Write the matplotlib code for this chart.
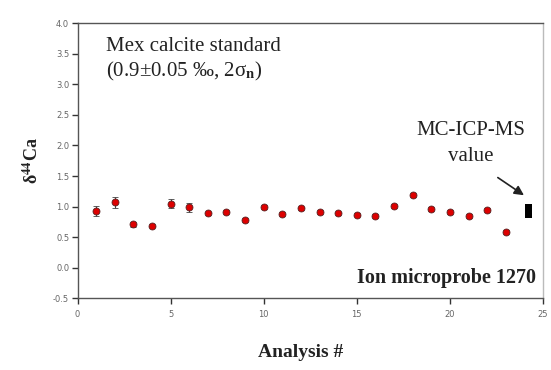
import matplotlib
matplotlib.use("Agg")
import matplotlib.pyplot as plt
import numpy as np

# datos
analise = np.arange(1, 24)
d44ca = [0.93, 1.07, 0.71, 0.69, 1.05, 0.99, 0.89, 0.91, 0.78, 0.99, 0.88, 0.97,
         0.91, 0.89, 0.87, 0.85, 1.01, 1.19, 0.96, 0.91, 0.85, 0.94, 0.58]
erro = [0.08, 0.09, 0.04, 0.03, 0.08, 0.075, 0.03, 0.03, 0.03, 0.03, 0.03, 0.03,
        0.03, 0.03, 0.03, 0.03, 0.03, 0.03, 0.03, 0.03, 0.03, 0.03, 0.03]
mc_x = 24.2
mc_val = 0.93
mc_erro = 0.11

plt.rcParams['mathtext.fontset'] = 'stix'
serif = 'Liberation Serif'

fig = plt.figure(figsize=(5.51, 3.70), dpi=100)
ax = fig.add_axes([0.1407, 0.1935, 0.8448, 0.7443])

ax.errorbar(analise, d44ca, yerr=erro, fmt='o', color='#dd0000', mec='#552222', mew=0.6,
            ms=5, ecolor='#444444', elinewidth=0.8, capsize=2, capthick=0.8)

# barra MC-ICP-MS
ax.bar([mc_x], [2 * mc_erro], bottom=mc_val - mc_erro, width=0.38, color='black')

ax.set_xlim(0, 25)
ax.set_ylim(-0.5, 4.0)
ax.set_xticks(np.arange(0, 26, 5))
ax.set_yticks(np.arange(-0.5, 4.01, 0.5))
ax.yaxis.set_major_formatter(matplotlib.ticker.FormatStrFormatter('%.1f'))
ax.tick_params(direction='out', length=4, width=1, colors='#333333',
               labelsize=6, labelcolor='#666666', pad=2)
ax.tick_params(axis='x', pad=4)
ax.spines['right'].set_color('#bbbbbb')
ax.spines['left'].set_color('#555555')
ax.spines['bottom'].set_color('#555555')
ax.spines['top'].set_color('#555555')
for s in ax.spines.values():
    s.set_linewidth(1.0)

ax.text(1.55, 3.55, 'Mex calcite standard', family=serif, fontsize=15, color='#222222')
ax.text(1.55, 3.13, '(0.9±0.05 ‰, 2σ$_{\\mathbf{n}}$)', family=serif, fontsize=15,
        color='#222222')
ax.text(21.1, 2.17, 'MC-ICP-MS', family=serif, fontsize=15, color='#222222', ha='center')
ax.text(21.1, 1.74, 'value', family=serif, fontsize=15, color='#222222', ha='center')
ax.annotate('', xy=(24.1, 1.16), xytext=(22.45, 1.50),
            arrowprops=dict(arrowstyle='-|>', color='#222222', lw=1.2, mutation_scale=14))
ax.text(24.6, -0.25, 'Ion microprobe 1270', family=serif, fontsize=14.5,
        fontweight='bold', ha='right', color='#222222')

fig.text(0.545, 0.035, 'Analysis #', family=serif, fontsize=14, fontweight='bold',
         ha='center', color='#222222')
fig.text(0.058, 0.565, 'δ$^{\\mathbf{44}}$Ca', family=serif, fontsize=13, fontweight='bold',
         rotation=90, va='center', ha='center', color='#222222')

plt.savefig('out.png', dpi=100)
